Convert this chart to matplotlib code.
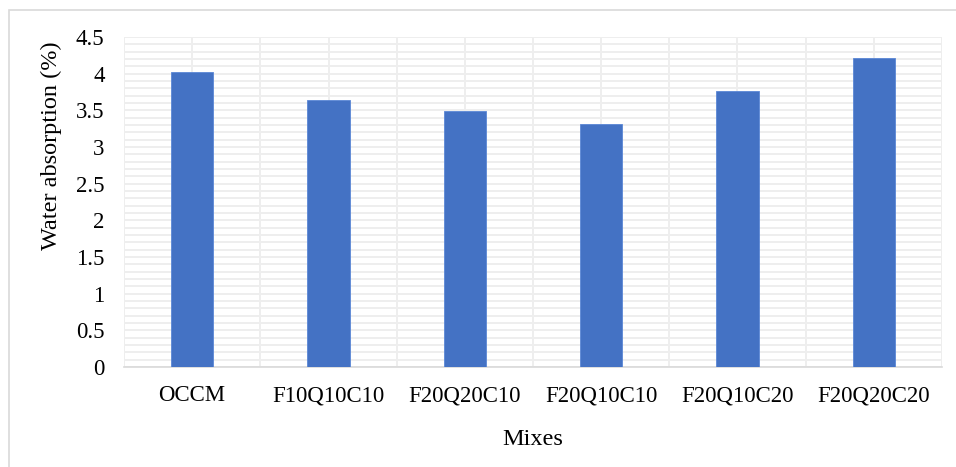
import numpy as np
import matplotlib
matplotlib.use("Agg")
import matplotlib.pyplot as plt
from matplotlib.patches import Rectangle

mixes = ["OCCM", "F10Q10C10", "F20Q20C10", "F20Q10C10", "F20Q10C20", "F20Q20C20"]
absorption = [4.02, 3.64, 3.49, 3.31, 3.76, 4.21]
y_ticks = [0, 0.5, 1, 1.5, 2, 2.5, 3, 3.5, 4, 4.5]
y_tick_labels = ["0", "0.5", "1", "1.5", "2", "2.5", "3", "3.5", "4", "4.5"]

plt.rcParams["font.family"] = ["Liberation Serif", "DejaVu Serif"]

W, H = 956, 467
fig = plt.figure(figsize=(W / 100, H / 100), dpi=100)

# chart frame (partly cropped in the reference)
fig.patches.append(Rectangle((8.5 / W, -0.1), 2, 1 - 9.5 / H + 0.1,
                             transform=fig.transFigure, fill=False,
                             edgecolor="#d9d9d9", linewidth=1.2))

left, right, top, bottom = 124, 942, 37, 367
ax = fig.add_axes([left / W, (H - bottom) / H, (right - left) / W, (bottom - top) / H])

x = np.arange(len(mixes))
ax.bar(x, absorption, width=0.31, color="#4472c4", edgecolor="#5b87d6",
       linewidth=0.6, zorder=3)

ax.set_xlim(-0.5, len(mixes) - 0.5)
ax.set_ylim(0, 4.5)

ax.set_yticks(y_ticks)
ax.set_yticklabels(y_tick_labels, fontsize=16.5)
ax.set_yticks(np.arange(0, 4.51, 0.1), minor=True)
ax.set_xticks(x)
ax.set_xticklabels(mixes, fontsize=16.5)
ax.set_xticks(np.arange(-0.5, len(mixes), 1.0), minor=True)

ax.grid(True, which="both", color="#eeeeee", linewidth=1.4, zorder=0)
ax.set_axisbelow(True)
ax.tick_params(axis="x", which="both", length=0, pad=13)
ax.tick_params(axis="y", which="both", length=0, pad=14)

for side in ["top", "right", "left"]:
    ax.spines[side].set_visible(False)
ax.spines["bottom"].set_color("#d9d9d9")
ax.spines["bottom"].set_linewidth(1.2)

fig.text(51 / W, 1 - 146 / H, "Water absorption (%)", rotation=90,
         ha="center", va="center", fontsize=17.5)
fig.text(533 / W, 1 - 445 / H, "Mixes", ha="center", va="baseline", fontsize=17.5)

plt.savefig("out.png", dpi=100)
plt.close(fig)
